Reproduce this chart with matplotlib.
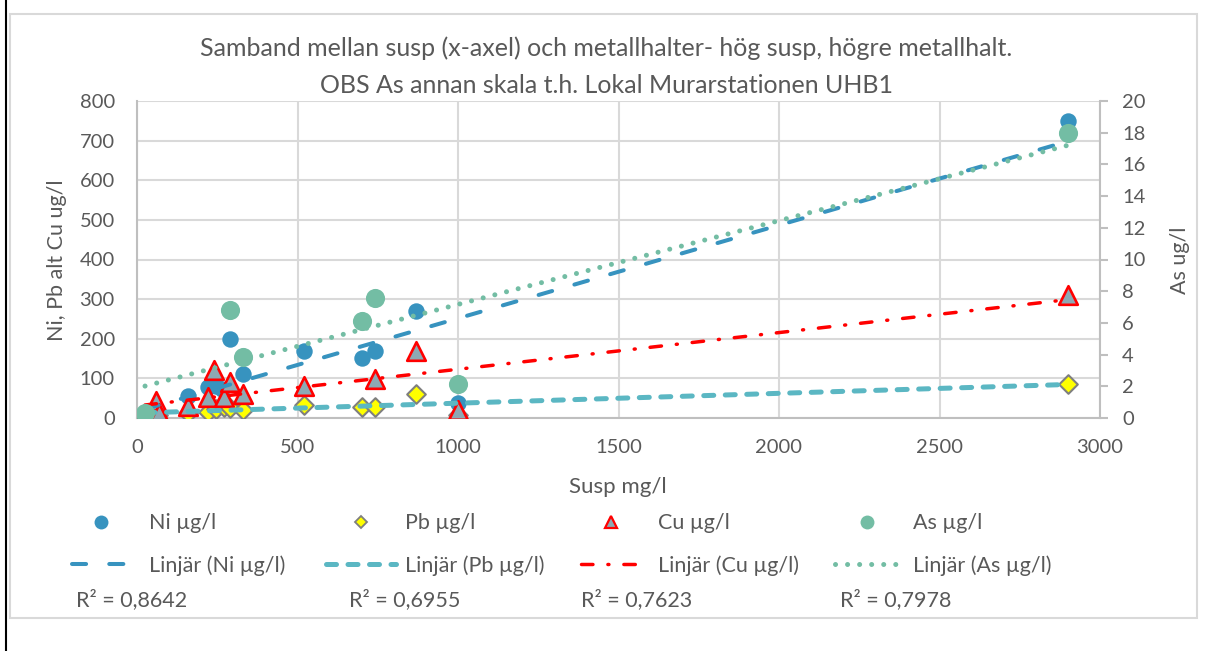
import numpy as np
import matplotlib
matplotlib.use("Agg")
import matplotlib.pyplot as plt
from matplotlib.lines import Line2D
from matplotlib.patches import Rectangle

plt.rcParams['font.family'] = ['Lato', 'DejaVu Sans']

# ---------------- data ----------------
ni_x = [25, 160, 220, 245, 265, 290, 330, 520, 700, 740, 870, 1000, 2900]
ni_y = [12, 55, 78, 80, 72, 200, 110, 170, 151, 170, 271, 37, 750]

pb_x = [25, 65, 160, 220, 245, 270, 290, 330, 520, 700, 740, 870, 1000, 2900]
pb_y = [5, 8, 12, 16, 23, 29, 25, 20, 33, 29, 29, 61, 8, 85]

cu_x = [25, 60, 70, 160, 220, 240, 270, 290, 330, 520, 740, 870, 1000, 2900]
cu_y = [3, 42, 12, 30, 52, 120, 52, 90, 60, 82, 98, 168, 20, 310]

as_x = [25, 290, 330, 700, 740, 1000, 2900]
as_y = [0.3, 6.8, 3.85, 6.1, 7.6, 2.15, 18.0]

r2_labels = ["R² = 0,8642", "R² = 0,6955", "R² = 0,7623", "R² = 0,7978"]

title_lines = ["Samband mellan susp (x-axel) och metallhalter- hög susp, högre metallhalt.",
               "OBS As annan skala t.h. Lokal Murarstationen UHB1"]

# ---------------- style ----------------
W, H = 1231, 651
C_NI = "#3793BF"
C_PB_LINE = "#5BB7C3"
C_CU = "#FF0000"
C_CU_FILL = "#8DA9B4"
C_AS = "#73BDA4"
C_TXT = "#595959"
C_GRID = "#D9D9D9"
C_SPINE = "#BFBFBF"
FS_TITLE = 18
FS_TICK = 14.5
FS_XLAB = 16
FS_YLAB = 15.5
FS_LEG = 15.5

fig = plt.figure(figsize=(W / 100, H / 100), dpi=100)
fig.patch.set_facecolor("white")

def fx(px):
    return px / W

def fy(py):
    return 1 - py / H

# chart border and left black line
fig.add_artist(Rectangle((fx(10), fy(618)), fx(1197) - fx(10), fy(14) - fy(618),
                         transform=fig.transFigure, fill=False, edgecolor="#D9D9D9", lw=1.5))
fig.add_artist(Line2D([fx(6), fx(6)], [0, 1], transform=fig.transFigure, color="black", lw=1.5))

ax = fig.add_axes([fx(137), fy(418), fx(1100) - fx(137), fy(101) - fy(418)])
ax2 = ax.twinx()

ax.set_xlim(0, 3000)
ax.set_ylim(0, 800)
ax.set_xticks(np.arange(0, 3001, 500))
ax.set_yticks(np.arange(0, 801, 100))
ax.grid(True, color=C_GRID, lw=1.5, zorder=0)
ax.set_axisbelow(True)
ax.spines["top"].set_visible(False)
ax2.spines["top"].set_visible(False)
for s in ["left", "bottom"]:
    ax.spines[s].set_color(C_SPINE)
    ax.spines[s].set_linewidth(1.5)
ax.spines["right"].set_visible(False)
ax2.spines["left"].set_visible(False)
ax2.spines["bottom"].set_visible(False)
ax2.spines["right"].set_color(C_SPINE)
ax2.spines["right"].set_linewidth(1.5)
ax.tick_params(axis="both", length=0, labelsize=FS_TICK, labelcolor=C_TXT)
ax.tick_params(axis="x", pad=15)
ax.tick_params(axis="y", pad=16)

ax2.set_ylim(0, 20)
ax2.set_yticks(np.arange(0, 21, 2))
ax2.tick_params(axis="y", length=6, width=1.5, color=C_SPINE, labelsize=FS_TICK,
                labelcolor=C_TXT, pad=10, direction="out")

# trendlines (least squares fits of the data)
def trend(x, y):
    k, m = np.polyfit(x, y, 1)
    xs = np.array([min(x), max(x)])
    return xs, k * xs + m

lw_ni, lw_pb, lw_cu, lw_as = 2.9, 3.6, 2.5, 3.6
ni_dash = (3.5, 5.75)
pb_dash = (2.0, 2.3)
cu_dash = (3.3, 4.3, 0.3, 4.3)
as_dash = (0.01, 2.4)

# markers
ax.scatter(ni_x, ni_y, s=140, color=C_NI, zorder=3, linewidths=0)
ax.scatter(pb_x, pb_y, s=90, marker="D", facecolor="#FFFF00", edgecolor="#7F7F7F", linewidths=1.5, zorder=4)
ax.scatter(cu_x, cu_y, s=180, marker="^", facecolor=C_CU_FILL, edgecolor=C_CU, linewidths=1.9, zorder=5)
ax2.scatter(as_x, as_y, s=190, color=C_AS, zorder=3, linewidths=0)

xs, ys = trend(ni_x, ni_y)
ax.plot(xs, ys, color=C_NI, lw=lw_ni, dashes=ni_dash, dash_capstyle="round", zorder=6)
xs, ys = trend(pb_x, pb_y)
ax.plot(xs, ys, color=C_PB_LINE, lw=lw_pb, dashes=pb_dash, dash_capstyle="round", zorder=6)
xs, ys = trend(cu_x, cu_y)
ax.plot(xs, ys, color=C_CU, lw=lw_cu, dashes=cu_dash, dash_capstyle="round", zorder=6)
xs, ys = trend(as_x, as_y)
ax2.plot(xs, ys, color=C_AS, lw=lw_as, dashes=as_dash, dash_capstyle="round", zorder=6)

# titles & labels
fig.text(fx(606), fy(56), title_lines[0], ha="center", va="baseline", fontsize=FS_TITLE, color=C_TXT)
fig.text(fx(606), fy(93), title_lines[1], ha="center", va="baseline", fontsize=FS_TITLE, color=C_TXT)
fig.text(fx(618), fy(493), "Susp mg/l", ha="center", va="baseline", fontsize=FS_XLAB, color=C_TXT)
fig.text(fx(57), fy(260), "Ni, Pb alt Cu ug/l", ha="center", va="center", rotation=90, fontsize=FS_YLAB, color=C_TXT)
fig.text(fx(1180), fy(260), "As ug/l", ha="center", va="center", rotation=90, fontsize=FS_YLAB, color=C_TXT)

# legend: 4 columns with 2 rows each
fs_px = FS_LEG * 100 / 72
cols = [
    (72, 57, 20, Line2D([], [], ls="none", marker="o", ms=10, color=C_NI, mew=0), "Ni µg/l",
     Line2D([], [], color=C_NI, lw=lw_ni, dashes=ni_dash, dash_capstyle="round"), "Linjär (Ni µg/l)"),
    (326, 70, 9, Line2D([], [], ls="none", marker="D", ms=6.5, mfc="#FFFF00", mec="#7F7F7F", mew=1.3), "Pb µg/l",
     Line2D([], [], color=C_PB_LINE, lw=lw_pb, dashes=pb_dash, dash_capstyle="round"), "Linjär (Pb µg/l)"),
    (581, 59, 18, Line2D([], [], ls="none", marker="^", ms=9, mfc=C_CU_FILL, mec=C_CU, mew=1.6), "Cu µg/l",
     Line2D([], [], color=C_CU, lw=lw_cu, dashes=cu_dash, dash_capstyle="round"), "Linjär (Cu µg/l)"),
    (835, 64, 14, Line2D([], [], ls="none", marker="o", ms=10, color=C_AS, mew=0), "As µg/l",
     Line2D([], [], color=C_AS, lw=lw_as, dashes=as_dash, dash_capstyle="round"), "Linjär (As µg/l)"),
]
for x0, hl, hp, h1, l1, h2, l2 in cols:
    fig.legend([h1, h2], [l1, l2], loc="center left", bbox_to_anchor=(fx(x0), fy(544.5)),
               frameon=False, fontsize=FS_LEG, handlelength=hl / fs_px, handletextpad=hp / fs_px,
               borderpad=0, borderaxespad=0, labelspacing=1.0, labelcolor=C_TXT)

r2_x = [76, 349, 581, 840]
for xx, lab in zip(r2_x, r2_labels):
    fig.text(fx(xx), fy(600), lab, ha="left", va="center", fontsize=FS_LEG, color=C_TXT)

fig.savefig("out.png", dpi=100, facecolor="white")
